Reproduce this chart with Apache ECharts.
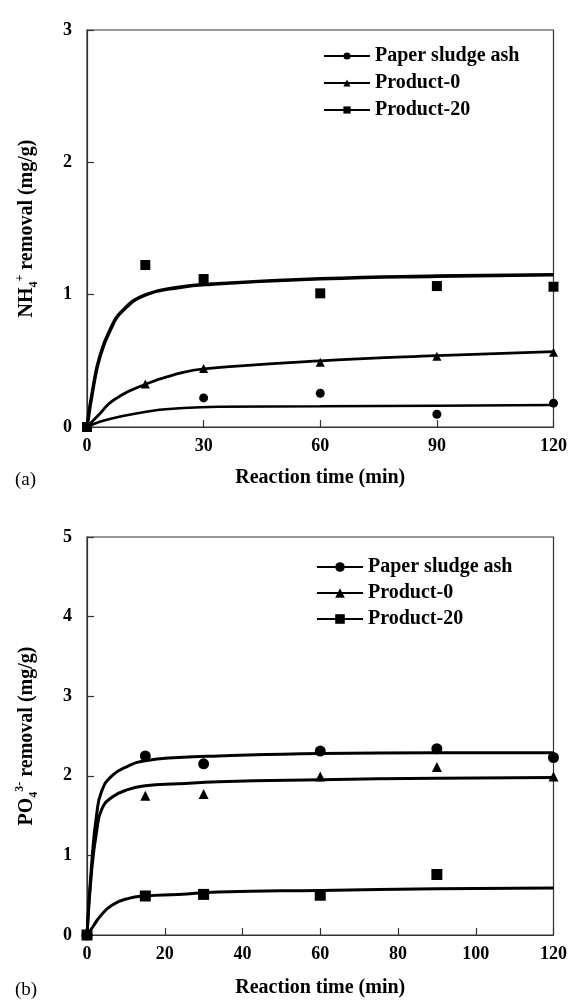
<!DOCTYPE html>
<html>
<head>
<meta charset="utf-8">
<script src="https://cdn.jsdelivr.net/npm/echarts@6/dist/echarts.min.js"></script>
<style>
    html, body { margin: 0; padding: 0; background: #fff; }
    #chartA { position: absolute; left: 0; top: 0; width: 570px; height: 500px; }
    #chartB { position: absolute; left: 0; top: 500px; width: 570px; height: 504px; }
</style>
</head>
<body>
<div id="chartA"></div>
<div id="chartB"></div>
<script>
const FONT = 'Liberation Serif'
const names = ['Paper sludge ash', 'Product-0', 'Product-20']
const symbols = ['circle', 'triangle', 'rect']

// (a) NH4+ removal, measured points
const timeA = [0, 15, 30, 60, 90, 120]
const ashA = [0, null, 0.22, 0.255, 0.096, 0.18]
const p0A = [0, 0.325, 0.443, 0.49, 0.535, 0.565]
const p20A = [0, 1.224, 1.118, 1.01, 1.065, 1.06]
// (a) fitted curves
const fitAshA = [[0, 0], [3.3, 0.04], [6.7, 0.066], [15.2, 0.116], [23.7, 0.141], [33.9, 0.153], [60, 0.156], [90, 0.16], [120, 0.166]]
const fitP0A = [[0, 0], [3.3, 0.1], [6.7, 0.2], [15.2, 0.325], [23.7, 0.405], [30, 0.44], [60, 0.5], [90, 0.54], [120, 0.57]]
const fitP20A = [[0, 0], [1.6, 0.3], [3.3, 0.53], [5.9, 0.73], [9.2, 0.88], [15.2, 1.0], [23.7, 1.055], [32, 1.08], [60, 1.12], [90, 1.14], [120, 1.15]]

// (b) PO4 3- removal, measured points
const timeB = [0, 15, 30, 60, 90, 120]
const ashB = [0, 2.25, 2.15, 2.31, 2.34, 2.23]
const p0B = [0, 1.75, 1.77, 1.99, 2.11, 1.99]
const p20B = [0, 0.49, 0.51, 0.5, 0.76, null]
// (b) fitted curves
const fitAshB = [[0, 0], [1.2, 0.9], [2.5, 1.52], [3.8, 1.81], [6.4, 2.0], [10.7, 2.125], [15, 2.19], [23.5, 2.23], [33.8, 2.25], [60, 2.28], [90, 2.29], [120, 2.29]]
const fitP0B = [[0, 0], [1.2, 0.81], [2.5, 1.31], [3.8, 1.58], [6.4, 1.73], [10.7, 1.83], [15, 1.875], [23.5, 1.9], [33.8, 1.925], [60, 1.95], [90, 1.97], [120, 1.98]]
const fitP20B = [[0, 0], [1.6, 0.11], [3.3, 0.23], [6.4, 0.375], [10.7, 0.46], [15, 0.49], [23.5, 0.51], [33.8, 0.54], [60, 0.56], [90, 0.58], [120, 0.59]]

const pairs = (t, v) => t.map((x, i) => v[i] == null ? null : [x, v[i]]).filter(Boolean)

function buildOption(cfg) {
    const series = []
    names.forEach((name, i) => {
        series.push({
            name: name,
            type: 'line',
            data: cfg.fits[i],
            smooth: 0.5,
            showSymbol: false,
            symbol: symbols[i],
            lineStyle: { color: '#000', width: cfg.lineWidths[i] },
            itemStyle: { color: '#000' },
            silent: true,
            z: 2
        })
        series.push({
            name: name + ' data',
            type: 'scatter',
            data: pairs(cfg.time, cfg.points[i]),
            symbol: symbols[i],
            symbolSize: cfg.sizes[i],
            itemStyle: { color: '#000', opacity: 1 },
            z: 3
        })
    })
    return {
        animation: false,
        title: {
            text: cfg.tag,
            left: 10,
            top: cfg.tagTop,
            textStyle: { fontFamily: FONT, fontWeight: 'normal', fontSize: 19, color: '#000' }
        },
        legend: {
            data: names,
            orient: 'vertical',
            left: cfg.legendLeft,
            top: cfg.legendTop,
            padding: 0,
            itemWidth: 46,
            itemHeight: cfg.legendItemHeight,
            itemGap: cfg.legendGap,
            lineStyle: { width: 2 },
            textStyle: { fontFamily: FONT, fontWeight: 'bold', fontSize: 20, lineHeight: 18, color: '#000' }
        },
        grid: {
            left: 87, top: cfg.gridTop, width: 470, height: cfg.gridHeight,
            show: true, borderColor: '#333', borderWidth: 1.2
        },
        xAxis: {
            type: 'value',
            min: 0, max: 120, interval: cfg.xInterval,
            name: 'Reaction time (min)',
            nameLocation: 'middle',
            nameGap: cfg.xNameGap,
            nameTextStyle: { fontFamily: FONT, fontWeight: 'bold', fontSize: 20, color: '#000' },
            axisLine: { lineStyle: { color: '#333', width: 1.2 } },
            axisTick: { inside: true, length: 7, lineStyle: { color: '#333', width: 1.2 } },
            axisLabel: { fontFamily: FONT, fontWeight: 'bold', fontSize: 18, color: '#000', margin: 10 },
            splitLine: { show: false }
        },
        yAxis: {
            type: 'value',
            min: 0, max: cfg.yMax, interval: 1,
            name: cfg.yName,
            nameLocation: 'middle',
            nameGap: 47,
            nameTextStyle: {
                rich: {
                    b: { fontFamily: FONT, fontWeight: 'bold', fontSize: 20, color: '#000', lineHeight: 26 },
                    s: { fontFamily: FONT, fontWeight: 'bold', fontSize: 12, color: '#000', verticalAlign: 'bottom', lineHeight: 26 },
                    p: { fontFamily: FONT, fontWeight: 'bold', fontSize: 12, color: '#000', verticalAlign: 'top', lineHeight: 26 }
                }
            },
            axisLine: { lineStyle: { color: '#333', width: 1.2 } },
            axisTick: { inside: true, length: 7, lineStyle: { color: '#333', width: 1.2 } },
            axisLabel: { fontFamily: FONT, fontWeight: 'bold', fontSize: 18, color: '#000', margin: 15, padding: cfg.yLabelPad },
            splitLine: { show: false }
        },
        series: series
    }
}

const chartA = echarts.init(document.getElementById('chartA'))
chartA.setOption(buildOption({
    tag: '(a)', tagTop: 466,
    time: timeA,
    points: [ashA, p0A, p20A],
    fits: [fitAshA, fitP0A, fitP20A],
    lineWidths: [2.5, 2.8, 3.6],
    sizes: [9, 9, 10],
    legendLeft: 323, legendTop: 46, legendItemHeight: 9, legendGap: 7,
    gridTop: 30, gridHeight: 397,
    xInterval: 30, xNameGap: 41,
    yMax: 3,
    yName: '{b|NH}{s|4}{p|+}{b| removal (mg/g)}',
    yLabelPad: [0, 0, 16, 0]
}))

const chartB = echarts.init(document.getElementById('chartB'))
chartB.setOption(buildOption({
    tag: '(b)', tagTop: 476,
    time: timeB,
    points: [ashB, p0B, p20B],
    fits: [fitAshB, fitP0B, fitP20B],
    lineWidths: [3, 3, 3],
    sizes: [11, 10, 11],
    legendLeft: 316, legendTop: 57, legendItemHeight: 12, legendGap: 6,
    gridTop: 37, gridHeight: 398,
    xInterval: 20, xNameGap: 43,
    yMax: 5,
    yName: '{b|PO}{s|4}{p|3-}{b| removal (mg/g)}',
    yLabelPad: [0, 0, 0, 0]
}))
</script>
</body>
</html>
